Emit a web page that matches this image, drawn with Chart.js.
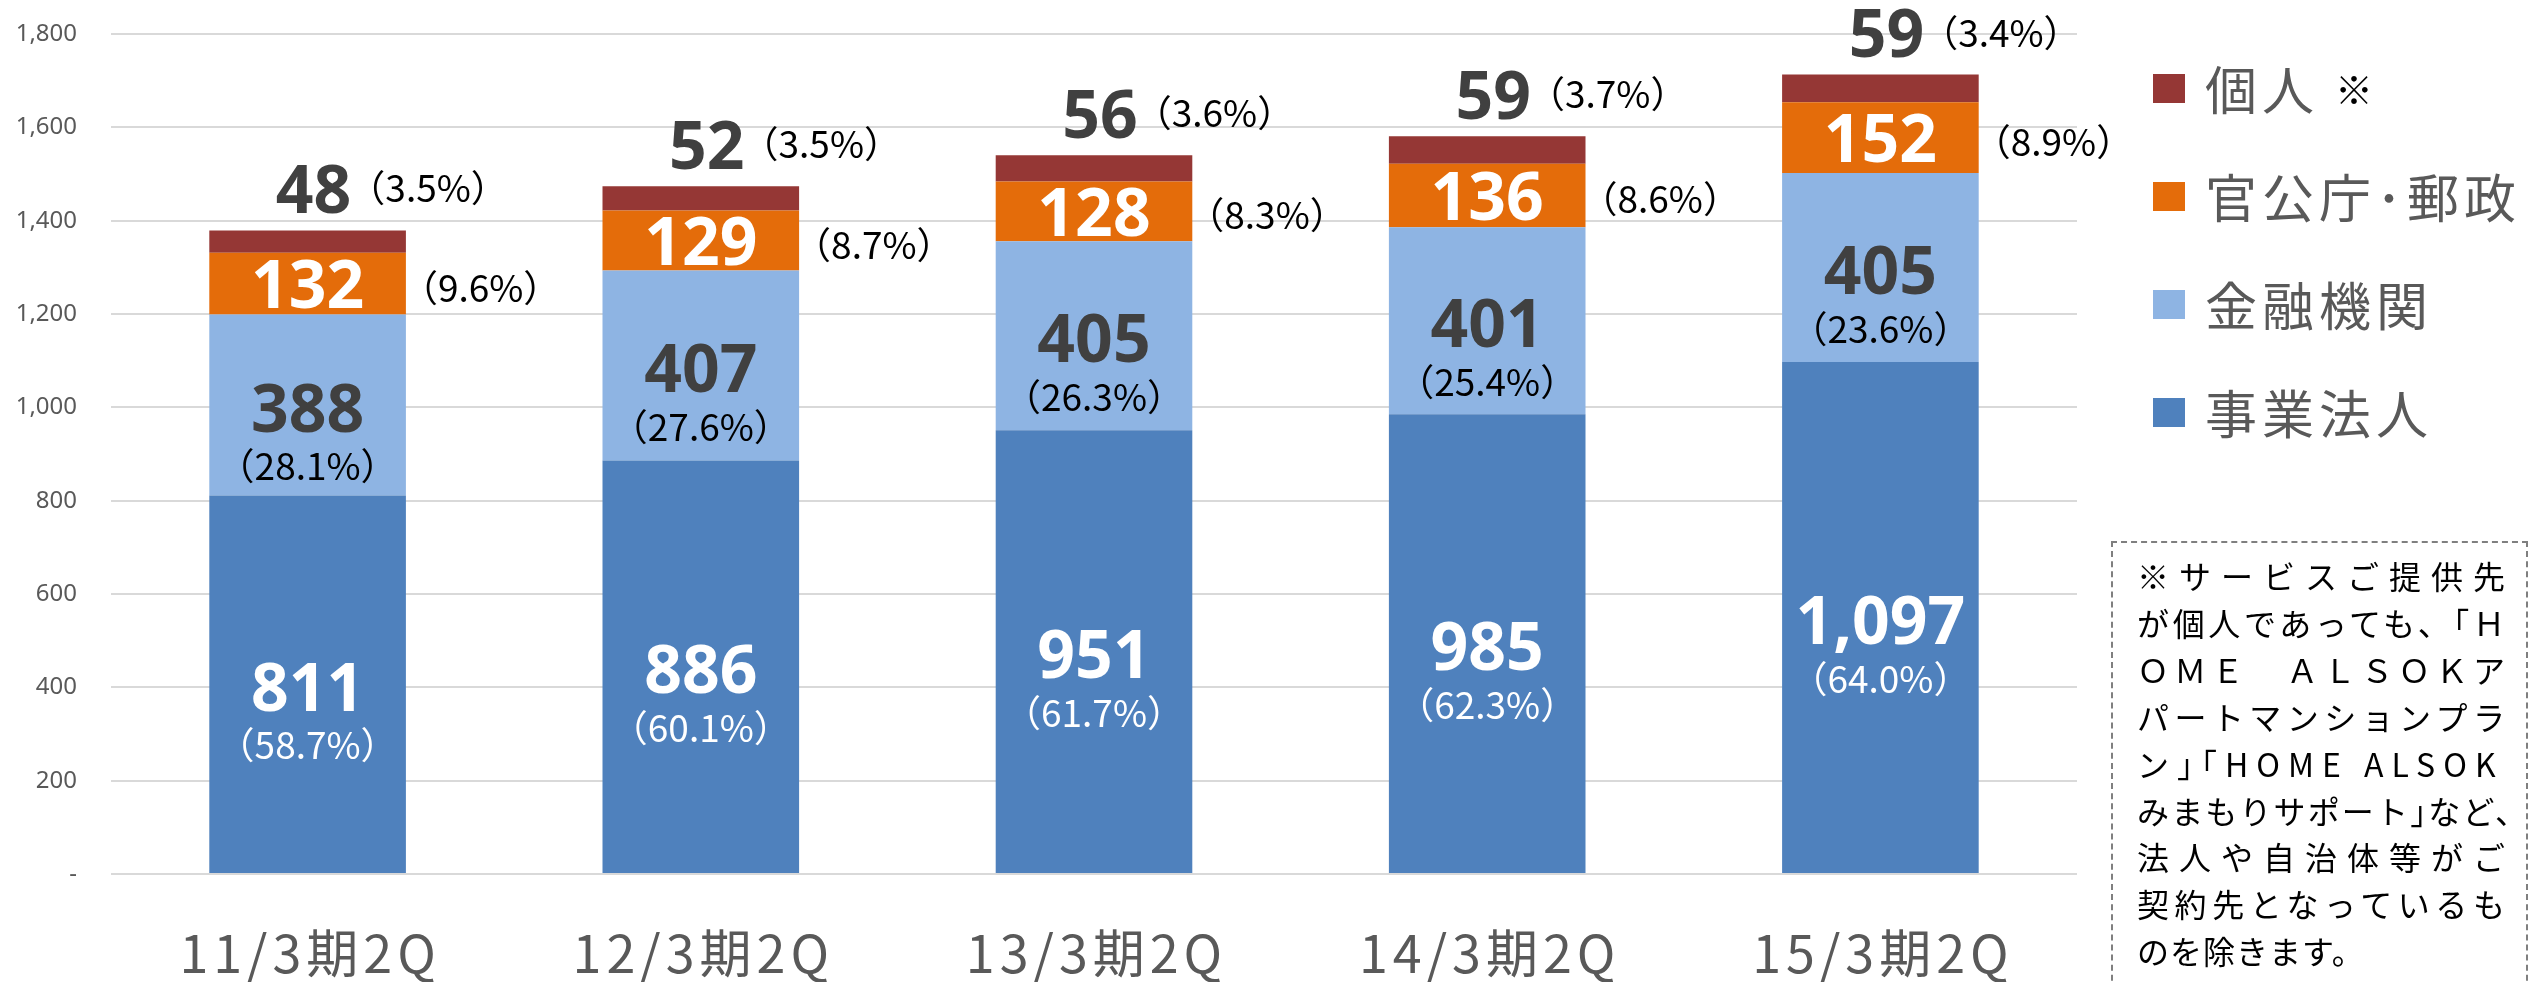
<!DOCTYPE html>
<html>
<head>
<meta charset="utf-8">
<script src="https://cdn.jsdelivr.net/npm/chart.js@4.4.1/dist/chart.umd.min.js"></script>
<style>
html,body{margin:0;padding:0;background:#fff;overflow:hidden;}
#wrap{position:relative;width:2534px;height:982px;overflow:hidden;}
#chart{position:absolute;left:0;top:0;}
#legend{position:absolute;left:2153px;top:0;font-family:"Noto Sans CJK JP";}
.item{position:absolute;left:0;height:60px;display:flex;align-items:center;white-space:nowrap;}
.sw{width:32px;height:29px;margin-right:20px;flex:none;}
.lt{font-size:52px;color:#595959;line-height:1;letter-spacing:5px;}
.mark{font-size:38px;color:#000;margin-left:16px;line-height:1;}
#note{position:absolute;left:2111px;top:541px;width:417px;height:470px;border:2px dashed #7f7f7f;box-sizing:border-box;}
.nl{position:absolute;left:24px;width:368px;font-family:"Noto Sans CJK JP";font-size:32px;line-height:32px;height:32px;text-align:justify;text-align-last:justify;color:#000;white-space:nowrap;}
.nl.plain{text-align:left;text-align-last:left;letter-spacing:1px;}
.nl.spread{text-align:left;text-align-last:left;letter-spacing:8px;}
</style>
</head>
<body>
<div id="wrap">
  <canvas id="chart" width="2534" height="982"></canvas>
  <div id="legend"></div>
  <div id="note"></div>
</div>
<script>
// ---- data ----
const categories = ["11/3期2Q", "12/3期2Q", "13/3期2Q", "14/3期2Q", "15/3期2Q"];
const seriesNames = ["事業法人", "金融機関", "官公庁･郵政", "個人"];
const corporate = [811, 886, 951, 985, 1097];
const financial = [388, 407, 405, 401, 405];
const government = [132, 129, 128, 136, 152];
const individual = [48, 52, 56, 59, 59];
const corporatePct = ["58.7", "60.1", "61.7", "62.3", "64.0"];
const financialPct = ["28.1", "27.6", "26.3", "25.4", "23.6"];
const governmentPct = ["9.6", "8.7", "8.3", "8.6", "8.9"];
const individualPct = ["3.5", "3.5", "3.6", "3.7", "3.4"];
const yTickLabels = ["-", "200", "400", "600", "800", "1,000", "1,200", "1,400", "1,600", "1,800"];
const seriesColors = ["#4F81BD", "#8EB4E3", "#E46C0A", "#953735"];
const noteLines = [
  "※サービスご提供先",
  "が個人であっても、「Ｈ",
  "ＯＭＥ　ＡＬＳＯＫア",
  "パートマンションプラ",
  "ン｣｢HOME ALSOK",
  "みまもりサポート｣など、",
  "法人や自治体等がご",
  "契約先となっているも",
  "のを除きます。"
];
const noteStyles = ["", "", "", "", "spread", "", "", "", "plain"];

const seriesValues = [corporate, financial, government, individual];
const seriesPcts = [corporatePct, financialPct, governmentPct, individualPct];

// ---- legend (top: 個人) ----
const legend = document.getElementById('legend');
const legendOrder = [3, 2, 1, 0];
legendOrder.forEach((si, k) => {
  const it = document.createElement('div');
  it.className = 'item';
  it.style.top = (88 + k * 108 - 30) + 'px';
  const sw = document.createElement('div');
  sw.className = 'sw';
  sw.style.background = seriesColors[si];
  const lt = document.createElement('span');
  lt.className = 'lt';
  lt.textContent = seriesNames[si];
  it.appendChild(sw);
  it.appendChild(lt);
  if (si === 3) {
    const m = document.createElement('span');
    m.className = 'mark';
    m.textContent = '※';
    it.appendChild(m);
  }
  legend.appendChild(it);
});

// ---- note ----
const note = document.getElementById('note');
noteLines.forEach((t, i) => {
  const d = document.createElement('div');
  d.className = 'nl' + (noteStyles[i] ? ' ' + noteStyles[i] : '');
  d.style.top = (16 + i * 46.9) + 'px';
  if (t.endsWith('、')) d.style.width = '390px';
  d.textContent = t;
  note.appendChild(d);
});

// ---- labels plugin ----
const labelPlugin = {
  id: 'barLabels',
  afterDatasetsDraw(chart) {
    const ctx = chart.ctx;
    const valFont = 'bold 66px "Noto Sans"';
    const pctFont = '37px "Noto Sans CJK JP"';
    ctx.save();
    ctx.textBaseline = 'alphabetic';
    ctx.font = valFont;
    const valAsc = ctx.measureText('0').actualBoundingBoxAscent;
    ctx.font = pctFont;
    const pctAsc = ctx.measureText('0').actualBoundingBoxAscent;
    chart.data.datasets.forEach((ds, di) => {
      const meta = chart.getDatasetMeta(di);
      meta.data.forEach((bar, i) => {
        const v = ds.data[i].toLocaleString('en-US');
        const p = '（' + seriesPcts[di][i] + '%）';
        const cx = bar.x;
        const cy = (bar.y + bar.base) / 2;
        const right = bar.x + bar.width / 2;
        const top = Math.min(bar.y, bar.base);
        if (di === 0 || di === 1) {
          ctx.font = valFont;
          ctx.textAlign = 'center';
          ctx.fillStyle = di === 0 ? '#FFFFFF' : '#404040';
          ctx.fillText(v, cx, cy + 2 + valAsc / 2);
          ctx.font = pctFont;
          ctx.fillStyle = di === 0 ? '#FFFFFF' : '#000000';
          ctx.fillText(p, cx, cy + 62 + pctAsc / 2);
        } else if (di === 2) {
          ctx.font = valFont;
          ctx.textAlign = 'center';
          ctx.fillStyle = '#FFFFFF';
          ctx.fillText(v, cx, cy + valAsc / 2);
          ctx.font = pctFont;
          ctx.textAlign = 'left';
          ctx.fillStyle = '#000000';
          const m = ctx.measureText(p);
          ctx.fillText(p, right + 20 + m.actualBoundingBoxLeft, cy + 5 + pctAsc / 2);
        } else {
          const vy = top - 42;
          ctx.font = valFont;
          ctx.textAlign = 'center';
          ctx.fillStyle = '#404040';
          const vx = cx + 6;
          const vw = ctx.measureText(v).width;
          ctx.fillText(v, vx, vy + valAsc / 2);
          ctx.font = pctFont;
          ctx.textAlign = 'left';
          ctx.fillStyle = '#000000';
          const m = ctx.measureText(p);
          ctx.fillText(p, vx + vw / 2 + 22 + m.actualBoundingBoxLeft, vy + 1 + pctAsc / 2);
        }
      });
    });
    ctx.restore();
  }
};

// x-axis category labels: wider letter spacing, as in the reference
function spacedLabels(scale) {
  if (scale._spacedPatched) return;
  scale._spacedPatched = true;
  const orig = scale.drawLabels;
  scale.drawLabels = function (area) {
    const ctx = this.ctx;
    ctx.save();
    const sp = 5;
    if ('letterSpacing' in ctx) {
      ctx.letterSpacing = sp + 'px';
      ctx.translate(sp / 2, 0);
    }
    orig.call(this, area);
    ctx.restore();
  };
}

// ---- chart ----
new Chart(document.getElementById('chart'), {
  type: 'bar',
  data: {
    labels: categories,
    datasets: seriesNames.map((n, i) => ({
      label: n,
      data: seriesValues[i],
      backgroundColor: seriesColors[i],
      borderWidth: 0,
      categoryPercentage: 1.0,
      barPercentage: 0.5
    }))
  },
  options: {
    responsive: false,
    animation: false,
    layout: { padding: { left: 0, right: 457, top: 34, bottom: 0 } },
    plugins: { legend: { display: false }, tooltip: { enabled: false } },
    scales: {
      x: {
        stacked: true,
        grid: { display: false, drawTicks: false },
        border: { display: false },
        ticks: {
          color: '#595959',
          font: { family: '"Noto Sans CJK JP"', size: 52, lineHeight: 1 },
          padding: 53,
          maxRotation: 0
        },
        afterFit(s) { s.height = 108; spacedLabels(s); }
      },
      y: {
        stacked: true,
        min: 0,
        max: 1800,
        grid: { color: '#D9D9D9', lineWidth: 2, drawTicks: false },
        border: { display: false },
        ticks: {
          stepSize: 200,
          color: '#595959',
          padding: 34,
          font: { family: '"Noto Sans"', size: 24 },
          callback: (v, idx) => yTickLabels[idx]
        },
        afterFit(s) {
          s.width = 111;
          s.paddingTop = 14;
          s.paddingBottom = 14;
        }
      }
    }
  },
  plugins: [labelPlugin]
});
</script>
</body>
</html>
